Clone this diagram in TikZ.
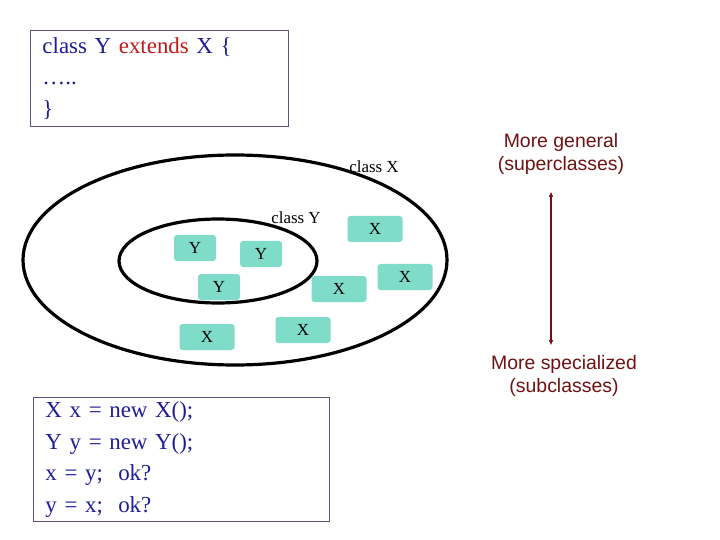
\documentclass[tikz,border=0pt]{standalone}
\usepackage{fontspec}
\setmainfont{Liberation Serif}
\newfontfamily\arialfont{Liberation Sans}
\usetikzlibrary{shapes,arrows.meta,positioning}
\definecolor{CodeNavy}{HTML}{1E1E96}
\definecolor{CodeRed}{HTML}{C01A1A}
\definecolor{BoxFrame}{HTML}{55557F}
\definecolor{ObjTeal}{HTML}{7FDCC8}
\definecolor{HierRed}{HTML}{6E1212}
\tikzset{
    % Code box style
    codebox/.style={
        draw=BoxFrame,
        line width=1pt,
        fill=white,
        anchor=north west,
        align=left,
        text=CodeNavy,
        inner xsep=12bp,
        font=\fontsize{23}{32}\selectfont
    },
    % Class set (ellipse)
    classset/.style={
        ellipse,
        draw=black,
        line width=3.2pt,
        inner sep=0pt
    },
    % Class label
    classlabel/.style={
        font=\fontsize{17}{20}\selectfont
    },
    % Object box
    objnode/.style={
        fill=ObjTeal,
        rounded corners=3pt,
        minimum height=26bp,
        inner sep=0pt,
        font=\fontsize{17}{20}\selectfont
    },
    ynode/.style={
        objnode,
        minimum width=42bp
    },
    xnode/.style={
        objnode,
        minimum width=55bp
    },
    % Hierarchy labels
    hierlabel/.style={
        font=\arialfont\fontsize{19.5}{23}\selectfont,
        text=HierRed,
        align=center
    },
    % Bidirectional arrow
    biarrow/.style={
        {Triangle[length=5pt,width=4pt]}-{Triangle[length=5pt,width=4pt]},
        line width=1.2pt,
        draw=HierRed
    }
}
\begin{document}
\begin{tikzpicture}[x=1bp, y=-1bp]
        \useasboundingbox (0,0) rectangle (720,540);

        % Code boxes
        \node[codebox, minimum width=258bp, minimum height=96bp, text width=234bp] (decl) at (30,30)
            {class Y {\color{CodeRed}extends} X \{\\\ldots..\\\}};
        \node[codebox, minimum width=296bp, minimum height=124bp, text width=272bp] (test) at (33,397)
            {X x = new X();\\Y y = new Y();\\x = y;~~ok?\\y = x;~~ok?};

        % Class sets
        \node[classset, minimum width=424bp, minimum height=210bp] (setx) at (235,260) {};
        \node[classset, minimum width=198bp, minimum height=84bp] (sety) at (218,261) {};
        \node[classlabel] (labx) at (374,167) {class X};
        \node[classlabel] (laby) at (296,218) {class Y};

        % Objects of class Y
        \node[ynode] (y1) at (195,248) {Y};
        \node[ynode] (y2) at (261,254) {Y};
        \node[ynode] (y3) at (219,287) {Y};

        % Objects of class X
        \node[xnode] (x1) at (375,229) {X};
        \node[xnode] (x2) at (405,277) {X};
        \node[xnode] (x3) at (339,289) {X};
        \node[xnode] (x4) at (207,337) {X};
        \node[xnode] (x5) at (303,330) {X};

        % Generality scale
        \node[hierlabel] (general) at (561,154) {More general\\(superclasses)};
        \node[hierlabel] (special) at (564,376) {More specialized\\(subclasses)};
        \coordinate (gentip) at (551,192);
        \coordinate (spectip) at (551,345);
        \draw[biarrow] (gentip) -- (spectip);
    \end{tikzpicture}
\end{document}
